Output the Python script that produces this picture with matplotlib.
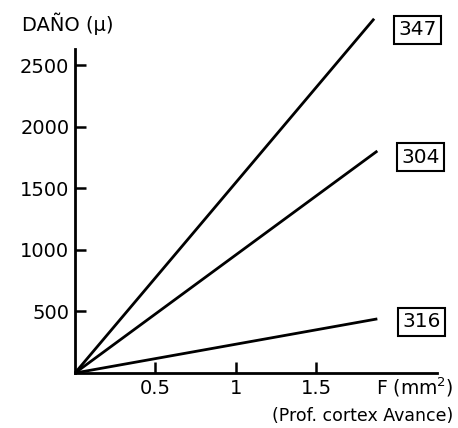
import matplotlib
matplotlib.use("Agg")
import matplotlib.pyplot as plt

# damage lines, all starting at the origin
series_names = ["347", "304", "316"]
x_end = [1.86, 1.88, 1.88]
y_end = [2880, 1805, 440]
label_pos = [(2.13, 2790), (2.15, 1755), (2.155, 415)]

x_ticks = [0.5, 1, 1.5]
x_tick_labels = ["0.5", "1", "1.5"]
y_ticks = [500, 1000, 1500, 2000, 2500]

plt.rcParams["font.family"] = "DejaVu Sans"

fig = plt.figure(figsize=(4.58, 4.28), dpi=100)
ax = fig.add_axes([0.1638, 0.1285, 0.79, 0.757])

for name, xe, ye, (lx, ly) in zip(series_names, x_end, y_end, label_pos):
    ax.plot([0, xe], [0, ye], color="black", lw=2.0,
            solid_capstyle="butt", clip_on=False)
    ax.text(lx, ly, name, ha="center", va="center", fontsize=14.5,
            bbox=dict(boxstyle="square,pad=0.22", fc="white", ec="black", lw=1.5))

ax.set_xlim(0, 2.25)
ax.set_ylim(0, 2634)
ax.set_xticks(x_ticks)
ax.set_xticklabels(x_tick_labels)
ax.set_yticks(y_ticks)
ax.tick_params(direction="in", length=8, width=1.8, labelsize=14, pad=4)

for side in ["top", "right"]:
    ax.spines[side].set_visible(False)
for side in ["left", "bottom"]:
    ax.spines[side].set_linewidth(2)

fig.text(0.048, 0.945, "DAÑO (µ)", fontsize=14, ha="left", va="center")
fig.text(0.99, 0.096, "F (mm$^2$)", fontsize=13.5, ha="right", va="center")
fig.text(0.99, 0.028, "(Prof. cortex Avance)", fontsize=12.5, ha="right", va="center")

fig.savefig("out.png", dpi=100, facecolor="white")
